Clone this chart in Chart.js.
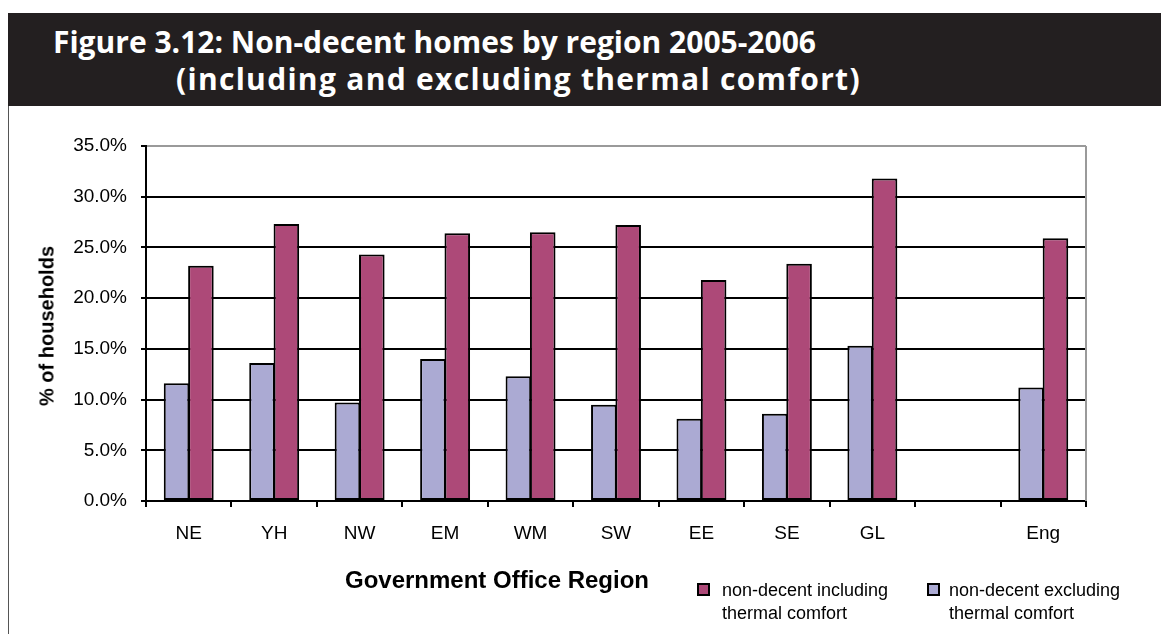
<!DOCTYPE html>
<html>
<head>
<meta charset="utf-8">
<script src="https://cdn.jsdelivr.net/npm/chart.js@4.4.1/dist/chart.umd.min.js"></script>
<style>
    html, body { margin: 0; padding: 0; background: #fff; }
    body { width: 1161px; height: 634px; position: relative; overflow: hidden; font-family: "Liberation Sans", Arial, sans-serif; }
    #titleBar { position: absolute; left: 8px; top: 13px; width: 1153px; height: 93px; background: #231f20; }
    .titleLine { position: absolute; color: #fff; font-family: "Open Sans", sans-serif; font-weight: 700; font-size: 30px; white-space: nowrap; line-height: 1; }
    #frameLine { position: absolute; left: 8px; top: 106px; width: 1px; height: 528px; background: #555; }
    #chartBox { position: absolute; left: 0; top: 0; }
    #yTitle { position: absolute; left: 47px; top: 326px; transform: translate(-50%, -50%) rotate(-90deg); font-weight: 700; font-size: 20px; white-space: nowrap; color: #000; }
    #xTitle { position: absolute; left: 497px; top: 580px; transform: translate(-50%, -50%); font-weight: 700; font-size: 24px; white-space: nowrap; color: #000; }
    .legendItem { position: absolute; top: 579px; font-size: 18px; line-height: 23px; color: #000; }
    .legendBox { position: absolute; left: 0; top: 4px; width: 9px; height: 9px; border: 2px solid #000; }
    .legendText { position: absolute; white-space: nowrap; }
</style>
</head>
<body>
<div id="titleBar"></div>
<div class="titleLine" style="left:53px; top:27px;">Figure 3.12: Non-decent homes by region 2005-2006</div>
<div class="titleLine" style="left:176px; top:64px; letter-spacing:1.3px;">(including and excluding thermal comfort)</div>
<div id="frameLine"></div>
<div id="chartBox"><canvas id="chart" width="1161" height="634"></canvas></div>
<div id="yTitle">% of households</div>
<div id="xTitle">Government Office Region</div>
<div id="legend"></div>

<script>
    // values (percent of households)
    var regions = ['NE', 'YH', 'NW', 'EM', 'WM', 'SW', 'EE', 'SE', 'GL', '', 'Eng'];
    var excludingThermal = [11.6, 13.6, 9.7, 14.0, 12.3, 9.5, 8.1, 8.6, 15.3, null, 11.2];
    var includingThermal = [23.2, 27.3, 24.3, 26.4, 26.5, 27.2, 21.8, 23.4, 31.8, null, 25.9];
    var yTickValues = [0, 5, 10, 15, 20, 25, 30, 35];

    var includingLabel = ['non-decent including', 'thermal comfort'];
    var excludingLabel = ['non-decent excluding', 'thermal comfort'];

    var colIncluding = '#ad4978';
    var colExcluding = '#abaad3';

    var plotFrame = {
        id: 'plotFrame',
        afterDraw: function (chart) {
            var a = chart.chartArea;
            var ctx = chart.ctx;
            ctx.save();
            ctx.strokeStyle = '#9a9a9a';
            ctx.lineWidth = 2;
            ctx.beginPath();
            ctx.moveTo(a.right, a.top);
            ctx.lineTo(a.right, a.bottom);
            ctx.stroke();
            ctx.restore();
        }
    };

    var chart = new Chart(document.getElementById('chart'), {
        type: 'bar',
        data: {
            labels: regions,
            datasets: [{
                label: excludingLabel.join(' '),
                data: excludingThermal,
                backgroundColor: colExcluding,
                borderColor: '#000',
                borderWidth: 2,
                borderSkipped: false
            }, {
                label: includingLabel.join(' '),
                data: includingThermal,
                backgroundColor: colIncluding,
                borderColor: '#000',
                borderWidth: 2,
                borderSkipped: false
            }]
        },
        options: {
            responsive: false,
            animation: false,
            devicePixelRatio: 1,
            layout: { padding: { left: 0, top: 146, right: 75, bottom: 0 } },
            datasets: { bar: { categoryPercentage: 0.57, barPercentage: 1.05 } },
            plugins: {
                legend: { display: false },
                tooltip: { enabled: false }
            },
            scales: {
                x: {
                    afterFit: function (s) { s.height = 133; },
                    grid: {
                        offset: true,
                        drawOnChartArea: false,
                        drawTicks: true,
                        tickLength: 6,
                        tickColor: '#000',
                        lineWidth: 2
                    },
                    border: { display: true, color: '#000', width: 2 },
                    ticks: {
                        color: '#000',
                        padding: 15,
                        font: { family: '"Liberation Sans", Arial, sans-serif', size: 19 }
                    }
                },
                y: {
                    min: 0,
                    max: 35,
                    afterFit: function (s) { s.width = 146; },
                    afterBuildTicks: function (s) {
                        s.ticks = yTickValues.map(function (v) { return { value: v }; });
                    },
                    grid: {
                        color: function (c) { return c.tick && c.tick.value === 35 ? '#9a9a9a' : '#000'; },
                        lineWidth: 2,
                        tickColor: '#000',
                        tickLength: 5
                    },
                    border: { display: true, color: '#000', width: 2 },
                    ticks: {
                        color: '#000',
                        padding: 14,
                        font: { family: '"Liberation Sans", Arial, sans-serif', size: 19 },
                        callback: function (v) { return v.toFixed(1) + '%'; }
                    }
                }
            }
        },
        plugins: [plotFrame]
    });

    // legend, drawn in html because of the two-line labels
    var legendItems = [
        { lines: includingLabel, color: colIncluding, left: 697 },
        { lines: excludingLabel, color: colExcluding, left: 927 }
    ];
    var legendEl = document.getElementById('legend');
    legendItems.forEach(function (item) {
        var div = document.createElement('div');
        div.className = 'legendItem';
        div.style.left = item.left + 'px';
        div.innerHTML = '<div class="legendBox" style="background:' + item.color + '"></div>' +
            '<div class="legendText" style="left:' + (item.left === 697 ? 25 : 22) + 'px">' + item.lines.join('<br>') + '</div>';
        legendEl.appendChild(div);
    });
</script>
</body>
</html>
